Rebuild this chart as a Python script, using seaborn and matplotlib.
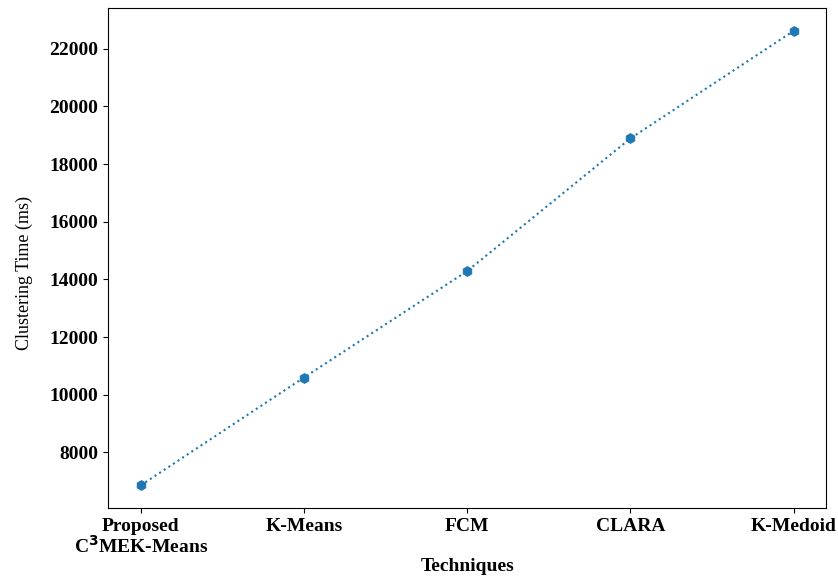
import matplotlib
matplotlib.use("Agg")
import matplotlib.pyplot as plt
import seaborn as sns
import pandas as pd

techniques = ["Proposed\nC$^{\\mathbf{3}}$MEK-Means", "K-Means", "FCM", "CLARA", "K-Medoid"]
times_ms = [6860, 10600, 14290, 18890, 22620]

df = pd.DataFrame({"Techniques": techniques, "Time": times_ms})

plt.rcParams['font.family'] = ['Liberation Serif', 'DejaVu Serif']

fig = plt.figure(figsize=(8.38, 5.82), dpi=100)
ax = fig.add_axes([0.129, 0.127, 0.857, 0.859])
sns.lineplot(data=df, x="Techniques", y="Time", ax=ax, marker='h', linestyle=':',
             color='#1f77b4', markersize=7, markeredgecolor='#1f77b4', sort=False)
ax.set_xlabel("Techniques", fontsize=14, fontweight='bold', labelpad=1)
ax.set_ylabel("Clustering Time (ms)", fontsize=13)
ax.yaxis.set_label_coords(-0.104, 0.47)
for lab in ax.get_xticklabels() + ax.get_yticklabels():
    lab.set_fontweight('bold')
    lab.set_fontsize(14)
for lab in ax.get_xticklabels():
    lab.set_linespacing(1.0)
fig.savefig("out.png", dpi=100)
